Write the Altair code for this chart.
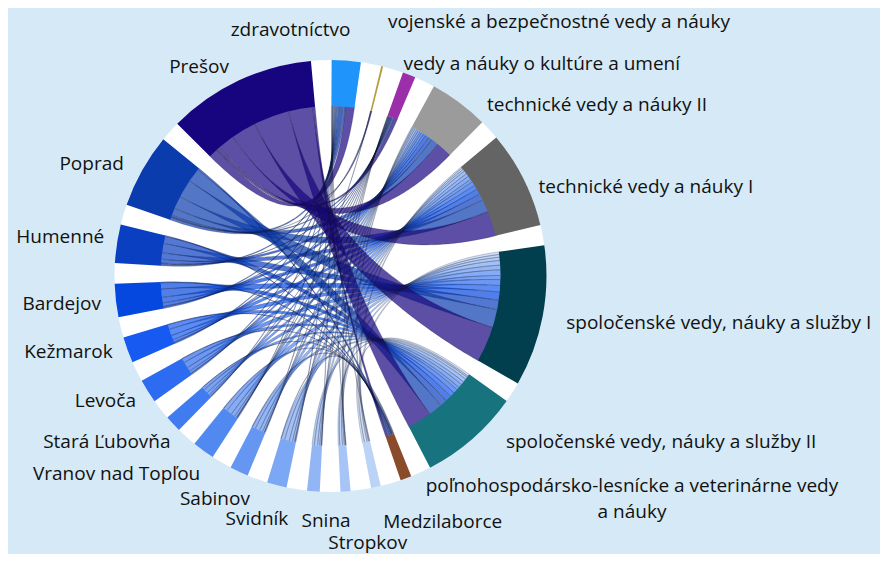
import math
import pandas as pd
import altair as alt

# ---------------- data ----------------
fields = [
    "zdravotníctvo",
    "vojenské a bezpečnostné vedy a náuky",
    "vedy a náuky o kultúre a umení",
    "technické vedy a náuky II",
    "technické vedy a náuky I",
    "spoločenské vedy, náuky a služby I",
    "spoločenské vedy, náuky a služby II",
    "poľnohospodársko-lesnícke a veterinárne vedy\na náuky",
]
field_colors = ["#1f95fb", "#b59b3c", "#9a2fa9", "#9b9b9b", "#646464",
                "#013f4e", "#17737e", "#8a4b2b"]

districts = ["Medzilaborce", "Stropkov", "Snina", "Svidník", "Sabinov",
             "Vranov nad Topľou", "Stará Ľubovňa", "Levoča", "Kežmarok",
             "Bardejov", "Humenné", "Poprad", "Prešov"]
district_colors = ["#bcd3f8", "#a6c4f7", "#92b6f5", "#7ca7f4", "#6597f2",
                   "#5289f1", "#417bf0", "#2d6cf0", "#165af2", "#0548df",
                   "#0a3fc2", "#0a3cae", "#17047f"]

# flows from each district into the fields (same order as `fields`)
medzilaborce = [2, 0, 0, 3, 5, 9, 7, 0]
stropkov = [2, 0, 1, 4, 6, 9, 5, 0]
snina = [2, 0, 1, 5, 7, 11, 8, 0]
svidnik = [3, 0, 2, 7, 11, 16, 12, 2]
sabinov = [3, 0, 1, 6, 11, 16, 11, 2]
vranov = [3, 1, 2, 7, 13, 19, 13, 2]
stara_lubovna = [3, 0, 1, 6, 10, 14, 10, 1]
levoca = [4, 0, 2, 8, 14, 20, 15, 1]
kezmarok = [4, 0, 2, 9, 15, 22, 16, 2]
bardejov = [5, 0, 2, 12, 19, 28, 21, 3]
humenne = [6, 0, 3, 13, 22, 32, 24, 3]
poprad = [10, 1, 6, 25, 43, 62, 47, 6]
presov = [31, 3, 12, 55, 86, 122, 83, 8]
flows = [medzilaborce, stropkov, snina, svidnik, sabinov, vranov,
         stara_lubovna, levoca, kezmarok, bardejov, humenne, poprad, presov]

# label placement (style): angular shift from arc middle (deg), radius (px), align
label_shift = [0.4, -1.2, -2.5, 5.6, 3.2, 0.0, -5.9, -35.0,
               0.0, -4.0, -3.5, -4.5, -5.0, -2.4, -2.5, 0.0, 1.3, 0.0, 1.7, -0.4, -0.5]
label_radius = [249, 262, 226, 233, 227, 240, 240, 366,
                250, 268, 243, 245, 235, 235, 229, 230, 230, 231, 230, 236, 234]
label_align = ["right", "left", "left", "left", "left", "left", "left", "center",
               "left", "center", "center"] + ["right"] * 10
LABEL_DROP = 2.0

# ---------------- layout ----------------
W, H = 872, 546
CX, CY = 322.5, 268.0
R_OUT, R_IN = 216, 170
GAP = 55.0
TH0 = math.radians(0.3)

n_f, n_d = len(fields), len(districts)
field_tot = [sum(f[j] for f in flows) for j in range(n_f)]
dist_tot = [sum(f) for f in flows]
groups = fields + districts
values = field_tot + dist_tot
colors = field_colors + district_colors
TOTAL = sum(values) + GAP * len(values)

starts, pos = [], 0.0
for v in values:
    starts.append(pos)
    pos += v + GAP


def ang(u):
    return TH0 + u / TOTAL * 2 * math.pi


def pt(u, r=R_IN):
    a = ang(u)
    return (r * math.sin(a), r * math.cos(a))


# sub-arc positions
tgt = {}
for j in range(n_f):
    c = starts[j]
    for d in range(n_d):
        tgt[(d, j)] = (c, c + flows[d][j])
        c += flows[d][j]
src = {}
for d in range(n_d):
    c = starts[n_f + d]
    for j in range(n_f):
        src[(d, j)] = (c, c + flows[d][j])
        c += flows[d][j]

N = 48
trail_rows, edge_rows = [], []
for d in range(n_d):
    for j in range(n_f):
        if flows[d][j] <= 0:
            continue
        s0, s1 = (pt(u) for u in src[(d, j)])
        t0, t1 = (pt(u) for u in tgt[(d, j)])
        S = ((s0[0] + s1[0]) / 2, (s0[1] + s1[1]) / 2)
        T = ((t0[0] + t1[0]) / 2, (t0[1] + t1[1]) / 2)
        cid = f"{d}-{j}"
        for i in range(N + 1):
            u = i / N
            a, b = (1 - u) ** 2, u ** 2
            e1 = (a * s1[0] + b * t0[0], a * s1[1] + b * t0[1])
            e2 = (a * s0[0] + b * t1[0], a * s0[1] + b * t1[1])
            mx, my = (e1[0] + e2[0]) / 2, (e1[1] + e2[1]) / 2
            dx, dy = -2 * (1 - u) * S[0] + 2 * u * T[0], -2 * (1 - u) * S[1] + 2 * u * T[1]
            dl = math.hypot(dx, dy) or 1.0
            Dx, Dy = e1[0] - e2[0], e1[1] - e2[1]
            w = abs(Dx * dy - Dy * dx) / dl
            trail_rows.append({"chord": cid, "i": i, "x": mx, "y": my, "w": w,
                               "color": district_colors[d]})
            edge_rows.append({"edge": cid + "a", "i": i, "x": e1[0], "y": e1[1]})
            edge_rows.append({"edge": cid + "b", "i": i, "x": e2[0], "y": e2[1]})

trail_df = pd.DataFrame(trail_rows)
edge_df = pd.DataFrame(edge_rows)

arc_df = pd.DataFrame({"group": groups, "start": starts,
                       "end": [s + v for s, v in zip(starts, values)], "color": colors})

lab_rows = []
for k, g in enumerate(groups):
    mid = math.degrees(ang(starts[k] + values[k] / 2)) + label_shift[k]
    r = label_radius[k]
    lab_rows.append({"label": g, "lx": r * math.sin(math.radians(mid)),
                     "ly": r * math.cos(math.radians(mid)) - LABEL_DROP,
                     "align": label_align[k]})
lab_df = pd.DataFrame(lab_rows)

# ---------------- chart ----------------
xs = alt.Scale(domain=[-CX, W - CX], nice=False, zero=False)
ys = alt.Scale(domain=[-(H - CY), CY], nice=False, zero=False)
X0 = alt.X(datum=0, scale=xs, axis=None)
Y0 = alt.Y(datum=0, scale=ys, axis=None)

disc = alt.Chart(pd.DataFrame({"k": [0]})).mark_arc(
    radius=R_OUT, theta=0, theta2=2 * math.pi, color="white"
).encode(x=X0, y=Y0)

trails = alt.Chart(trail_df).mark_trail(opacity=0.7).encode(
    x=alt.X("x:Q", scale=xs, axis=None),
    y=alt.Y("y:Q", scale=ys, axis=None),
    size=alt.Size("w:Q", scale=None, legend=None),
    color=alt.Color("color:N", scale=None),
    detail="chord:N",
    order="i:Q",
)

edges = alt.Chart(edge_df).mark_line(strokeWidth=0.6, opacity=0.35, color="#15152a").encode(
    x=alt.X("x:Q", scale=xs, axis=None),
    y=alt.Y("y:Q", scale=ys, axis=None),
    detail="edge:N",
    order="i:Q",
)

arcs = alt.Chart(arc_df).mark_arc(radius=R_OUT, radius2=R_IN).encode(
    x=X0, y=Y0,
    theta=alt.Theta("start:Q", stack=False,
                    scale=alt.Scale(domain=[0, TOTAL], range=[TH0, TH0 + 2 * math.pi])),
    theta2="end:Q",
    color=alt.Color("color:N", scale=None),
)

texts = []
for al in ["left", "right", "center"]:
    texts.append(
        alt.Chart(lab_df).transform_filter(alt.datum.align == al).mark_text(
            align=al, baseline="middle", font="Open Sans", fontSize=19,
            color="#111111", lineBreak="\n", lineHeight=26,
        ).encode(
            x=alt.X("lx:Q", scale=xs, axis=None),
            y=alt.Y("ly:Q", scale=ys, axis=None),
            text="label:N",
        )
    )

chart = alt.layer(disc, trails, edges, arcs, *texts).properties(
    width=W, height=H, padding=0,
    autosize=alt.AutoSizeParams(type="none"),
).configure(background="#d5e9f6").configure_view(strokeWidth=0)

chart.save("out.html", embed_options={"renderer": "svg", "actions": False})
